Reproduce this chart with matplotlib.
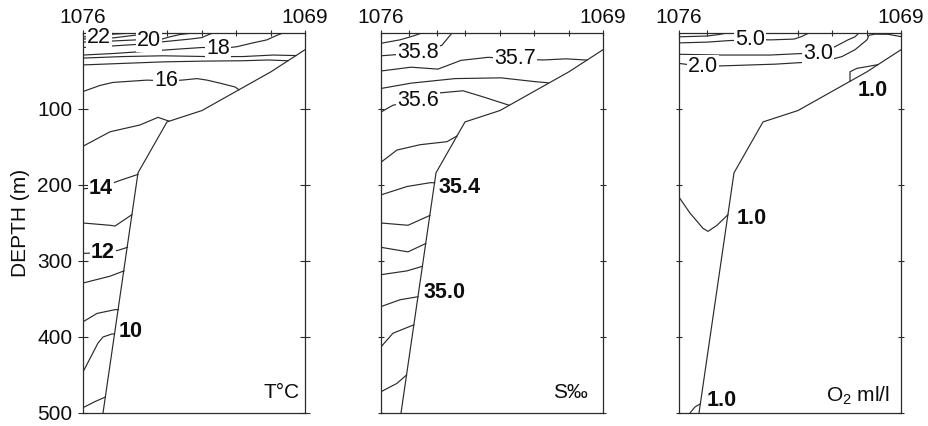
import matplotlib
matplotlib.use("Agg")
import matplotlib.pyplot as plt

plt.rcParams["font.family"] = ["Liberation Sans", "DejaVu Sans"]
plt.rcParams["mathtext.fontset"] = "custom"
plt.rcParams["mathtext.rm"] = "Liberation Sans"
plt.rcParams["mathtext.default"] = "regular"

# ---- section geometry -------------------------------------------------------
stations = ["1076", "1075", "1074", "1073", "1072", "1071", "1070", "1069"]
station_km = [0, 28, 56, 84, 119, 153, 188, 222]

bottom_km = [222, 188, 119, 84, 55, 20]
bottom_depth = [22, 51, 102, 117, 184, 500]

# ---- temperature (deg C) isolines -------------------------------------------
T_levels = [22, 21, 20, 19, 18, 17.5, 17, 16, 15, 14, 13, 12, 11.5, 11, 10, 9.5]
T_km = [
    [0, 16, 30, 40, 52],
    [0, 29, 54, 62],
    [0, 30, 54, 66, 79, 87, 97, 110],
    [0, 30, 54, 80, 107, 119, 124, 130],
    [0, 30, 64, 97, 120, 135, 154, 170, 184, 194, 200],
    [0, 40, 80, 125, 160, 190, 213],
    [0, 40, 80, 120, 160, 185, 205],
    [0, 17, 30, 64, 83, 99, 114, 124, 137, 152, 156],
    [0, 27, 57, 75, 86],
    [0, 18, 37, 55],
    [0, 27, 32, 49],
    [0, 20, 35, 44.5],
    [0, 27, 41],
    [0, 14, 32, 35.5],
    [0, 15, 20, 29, 31.5],
    [0, 12, 22.3],
]
T_depth = [
    [5, 5, 1.5, 0.8, 0],
    [8, 6.6, 2.6, 0],
    [12, 10.5, 9, 10.5, 8, 5, 2, 0],
    [19, 17, 15, 11.5, 8, 6, 3, 0],
    [29, 27, 24, 21, 19, 21, 18, 13, 9, 3, 0],
    [33, 31, 30, 31, 31, 29, 29.7],
    [42, 40, 38, 37, 36.5, 35.5, 36.5],
    [77, 69, 65, 62, 63, 62, 60, 62, 66, 71, 74.7],
    [149, 130, 121, 111, 116],
    [205, 203, 194, 186],
    [250, 253, 254, 239],
    [290, 289, 286, 282],
    [329, 320, 313],
    [380, 369, 364, 364],
    [446, 408, 400, 396, 396],
    [493, 485, 479],
]
T_label_level = [22, 20, 18, 16, 14, 12, 10]
T_label_km = [16, 66, 135, 83, 18, 20, 48]
T_label_depth = [6, 10.5, 21, 63, 204, 289, 393]
T_label_bold = [False, False, False, False, True, True, True]

# ---- salinity (per mille) isolines ------------------------------------------
S_levels = [35.9, 35.8, 35.7, 35.65, 35.6, 35.5, 35.4, 35.3, 35.2, 35.1, 35.0, 34.9, 34.8]
S_km = [
    [0, 19, 32, 41],
    [0, 20, 37, 55, 61, 71],
    [0, 30, 57, 80, 97, 107, 134, 162, 185, 206],
    [0, 30, 74, 120, 154, 167],
    [0, 12, 37, 57, 82, 102, 128],
    [0, 16, 39, 66, 76],
    [0, 26, 49, 53.6],
    [0, 27, 49],
    [0, 27, 44.7],
    [0, 26, 41.4],
    [0, 19, 37],
    [0, 12, 32.8],
    [0, 16, 25.5],
]
S_depth = [
    [13.5, 9, 4, 0],
    [30, 28, 25.5, 19, 16, 0],
    [50, 45, 47.5, 36, 33.5, 32, 34, 35.5, 34, 35.6],
    [73, 66, 60, 59, 64, 65.5],
    [104, 95, 89, 79, 76, 84, 95],
    [170, 154, 147, 143, 135.5],
    [213, 202, 197, 197],
    [250, 253, 240],
    [282, 288, 277],
    [318, 313, 307],
    [360, 351, 347],
    [413, 395, 384],
    [472, 461, 450],
]
S_label_level = [35.8, 35.7, 35.6, 35.4, 35.0]
S_label_km = [37, 134, 37, 79, 64]
S_label_depth = [25.5, 34, 89, 203, 342]
S_label_bold = [False, False, False, True, True]

# ---- dissolved oxygen (ml/l) isolines ---------------------------------------
O_levels = [6.0, 5.0, 3.0, 2.0, 1.0, 1.0, 1.0]
O_km = [
    [0, 28, 40, 48],
    [0, 28, 50, 71, 93, 115, 122, 130],
    [0, 41, 91, 123, 139, 156, 169, 176, 180],
    [0, 24, 49, 96, 146, 163, 176, 188, 190, 196, 209, 223],
    [171, 171, 178, 189, 199],
    [0, 11, 24, 29, 38, 49],
    [11, 16, 21.3],
]
O_depth = [
    [5, 4, 2, 0],
    [13, 12, 10, 9, 9, 8, 5, 0],
    [28, 29, 29, 27, 27, 18, 9, 5, 0],
    [40, 44, 43, 41, 37, 31, 22, 9, 3, 1.5, 1.7, 5],
    [63.6, 51, 46.5, 44, 41.6],
    [216, 237, 257, 261, 253, 239],
    [500, 492, 488],
]
O_label_level = [5.0, 3.0, 2.0, 1.0, 1.0, 1.0]
O_label_km = [71, 139, 24, 194, 73, 43]
O_label_depth = [9, 27, 44, 75, 244, 483]
O_label_bold = [False, False, False, True, True, True]

# ---- figure -----------------------------------------------------------------
INK = "#2b2b2b"
TXT = "#0e0e0e"
W, H = 929, 426
fig = plt.figure(figsize=(W / 100, H / 100), dpi=100)
panel_left = [83, 381, 679]
axes = [fig.add_axes([l / W, 13 / H, 222 / W, 380 / H]) for l in panel_left]

panels = [
    (T_km, T_depth, T_label_level, T_label_km, T_label_depth, T_label_bold, "{:.0f}", "T°C", 0.978, 0.053),
    (S_km, S_depth, S_label_level, S_label_km, S_label_depth, S_label_bold, "{:.1f}", "S‰", 0.930, 0.053),
    (O_km, O_depth, O_label_level, O_label_km, O_label_depth, O_label_bold, "{:.1f}", "O$_2$ ml/l", 0.950, 0.045),
]

for i, (ax, p) in enumerate(zip(axes, panels)):
    km, depth, lab_lev, lab_km, lab_dep, lab_bold, fmt, title, tx, ty = p

    for xs, ds in zip(km, depth):
        ax.plot(xs, ds, color=INK, lw=0.85, solid_joinstyle="round", zorder=2)

    ax.plot(bottom_km, bottom_depth, color=INK, lw=0.85, zorder=2)

    for lev, x, d, b in zip(lab_lev, lab_km, lab_dep, lab_bold):
        ax.text(x, d, fmt.format(lev), ha="center", va="center", fontsize=15.5,
                fontweight="bold" if b else "normal", color=TXT,
                bbox=dict(boxstyle="square,pad=0.04", fc="white", ec="none"),
                zorder=4, clip_on=False)

    ax.text(tx, ty, title, transform=ax.transAxes, ha="right", va="center",
            fontsize=15, color=TXT, zorder=4)

    ax.set_xlim(0, 222)
    ax.set_ylim(500, 0)

    # station markers along the surface
    ax.xaxis.set_ticks_position("top")
    ax.set_xticks(station_km)
    ax.set_xticklabels([stations[0]] + [""] * 6 + [stations[-1]])
    ax.tick_params(axis="x", direction="inout", length=5, width=0.8, pad=1.5,
                   colors=INK, labelsize=15, labelcolor=TXT)

    ax.set_yticks([100, 200, 300, 400, 500])
    ax.tick_params(axis="y", which="both", left=True, right=True,
                   direction="inout", length=7 if i == 0 else 5, width=0.8,
                   pad=4.2, colors=INK, labelsize=15, labelcolor=TXT)
    if i == 0:
        ax.set_ylabel("DEPTH (m)", fontsize=15, color=TXT, labelpad=5)
    else:
        ax.set_yticklabels([])

    for s in ax.spines.values():
        s.set_color(INK)
        s.set_linewidth(0.9)

fig.savefig("out.png", dpi=100)
